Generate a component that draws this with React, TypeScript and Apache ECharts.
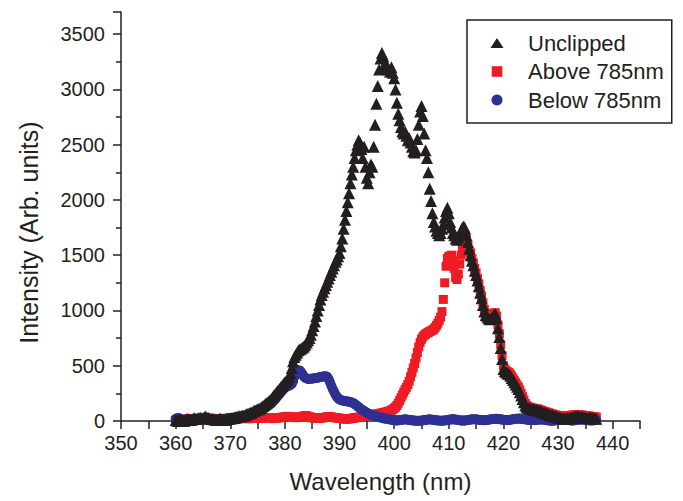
import React, { useEffect, useRef } from "react";
import * as echarts from "echarts";

const WAVELENGTH_START = 360;
const WAVELENGTH_STEP = 0.25;

const SERIES_NAMES = ["Unclipped", "Above 785nm", "Below 785nm"];

// Intensity sampled every 0.25 nm from 360 nm (8 values per row = 2 nm)
const UNCLIPPED = [
  10, 5, 0, 8, 12, 5, 0, 6,
  15, 20, 12, 8, 14, 22, 25, 18,
  20, 28, 30, 22, 26, 34, 40, 30,
  28, 22, 20, 18, 15, 12, 10, 14,
  18, 20, 16, 12, 10, 14, 18, 20,
  22, 25, 28, 30, 34, 38, 40, 42,
  45, 48, 50, 55, 60, 65, 70, 75,
  80, 88, 95, 100, 105, 110, 115, 125,
  135, 145, 155, 165, 175, 185, 200, 215,
  230, 245, 260, 275, 290, 305, 320, 335,
  350, 360, 375, 400, 430, 480, 540, 580,
  600, 620, 640, 650, 655, 665, 675, 690,
  710, 730, 750, 780, 820, 860, 900, 950,
  1000, 1050, 1100, 1140, 1170, 1200, 1230, 1260,
  1290, 1320, 1350, 1380, 1410, 1440, 1460, 1490,
  1520, 1580, 1650, 1740, 1820, 1900, 1980, 2060,
  2150, 2230, 2300, 2380, 2450, 2500, 2540, 2520,
  2460, 2380, 2480, 2300, 2200, 2150, 2250, 2320,
  2300, 2480, 2680, 2870, 3030, 3180, 3280, 3330,
  3300, 3230, 3190, 3210, 3180, 3160, 3200, 3150,
  3100, 3000, 2880, 2780, 2720, 2660, 2620, 2600,
  2620, 2580, 2540, 2560, 2520, 2480, 2440, 2430,
  2450, 2550, 2680, 2800, 2850, 2760, 2600, 2450,
  2380, 2250, 2100, 1990, 1880, 1800, 1760, 1720,
  1700, 1680, 1700, 1740, 1780, 1840, 1900, 1930,
  1880, 1800, 1750, 1700, 1680, 1650, 1640, 1660,
  1690, 1720, 1750, 1760, 1740, 1680, 1620, 1560,
  1500, 1450, 1410, 1360, 1320, 1270, 1220, 1160,
  1110, 1050, 990, 960, 945, 930, 920, 925,
  940, 960, 970, 930, 840, 760, 660, 560,
  470, 450, 440, 430, 425, 410, 390, 370,
  350, 330, 310, 290, 260, 230, 200, 170,
  140, 125, 120, 115, 110, 108, 105, 102,
  100, 98, 95, 90, 85, 80, 75, 70,
  65, 60, 56, 52, 50, 46, 42, 38,
  35, 30, 28, 25, 22, 20, 20, 22,
  25, 28, 30, 35, 38, 40, 42, 40,
  38, 36, 34, 32, 30, 28, 26, 28,
  30, 28, 25, 22, 20,
];

const ABOVE_785 = [
  5, 8, 10, 12, 10, 8, 12, 15,
  18, 20, 22, 20, 18, 16, 18, 20,
  22, 24, 22, 20, 18, 16, 15, 16,
  18, 20, 22, 24, 22, 20, 18, 16,
  15, 14, 15, 16, 18, 20, 22, 22,
  20, 18, 16, 15, 16, 18, 20, 22,
  24, 26, 25, 24, 22, 20, 22, 24,
  26, 28, 30, 28, 26, 24, 22, 24,
  26, 28, 30, 32, 30, 28, 26, 24,
  22, 24, 26, 28, 30, 32, 34, 36,
  38, 40, 42, 40, 38, 36, 34, 32,
  30, 32, 34, 36, 38, 42, 45, 48,
  46, 42, 38, 34, 30, 28, 26, 24,
  22, 24, 26, 28, 30, 32, 35, 38,
  40, 38, 36, 34, 32, 30, 28, 26,
  25, 24, 22, 20, 18, 17, 18, 20,
  22, 24, 26, 28, 30, 32, 34, 36,
  38, 40, 42, 44, 46, 48, 50, 52,
  55, 58, 60, 62, 65, 68, 70, 72,
  75, 78, 80, 84, 88, 92, 98, 105,
  115, 125, 140, 160, 185, 210, 235, 260,
  285, 305, 330, 360, 400, 440, 480, 520,
  570, 620, 670, 710, 740, 760, 775, 785,
  795, 800, 810, 815, 822, 830, 845, 865,
  885, 910, 940, 990, 1100, 1250, 1400, 1470,
  1490, 1470, 1500, 1450, 1380, 1300, 1280, 1330,
  1420, 1500, 1560, 1620, 1680, 1640, 1590, 1530,
  1520, 1470, 1430, 1380, 1340, 1290, 1240, 1180,
  1130, 1070, 1010, 975, 960, 945, 935, 940,
  955, 975, 980, 950, 870, 790, 690, 590,
  500, 470, 455, 445, 440, 425, 405, 385,
  365, 345, 325, 305, 280, 250, 220, 190,
  160, 140, 130, 125, 120, 118, 115, 112,
  110, 108, 105, 100, 95, 90, 86, 82,
  78, 74, 70, 66, 62, 58, 55, 52,
  50, 48, 46, 45, 44, 44, 45, 46,
  48, 50, 52, 54, 55, 56, 56, 55,
  55, 54, 52, 50, 48, 46, 45, 44,
  42, 40, 38, 36, 35,
];

const BELOW_785 = [
  20, 25, 28, 22, 15, 10, 8, 10,
  12, 10, 8, 6, 8, 10, 12, 14,
  15, 16, 18, 20, 22, 24, 25, 22,
  20, 18, 16, 14, 12, 10, 8, 10,
  12, 14, 16, 18, 20, 22, 24, 25,
  26, 28, 30, 30, 32, 34, 36, 38,
  40, 42, 45, 48, 50, 54, 58, 62,
  66, 70, 75, 80, 85, 90, 96, 102,
  110, 118, 126, 134, 142, 152, 162, 175,
  188, 200, 215, 230, 245, 260, 275, 290,
  300, 310, 315, 320, 325, 335, 360, 400,
  430, 450, 460, 455, 440, 420, 400, 390,
  385, 380, 380, 382, 385, 385, 388, 390,
  392, 395, 398, 400, 402, 404, 405, 400,
  380, 350, 320, 290, 265, 240, 220, 205,
  195, 190, 186, 183, 180, 178, 176, 174,
  172, 168, 162, 155, 145, 135, 125, 115,
  105, 98, 90, 82, 75, 68, 62, 58,
  54, 50, 46, 42, 38, 35, 32, 29,
  26, 23, 20, 18, 16, 14, 12, 10,
  8, 6, 5, 6, 8, 10, 12, 14,
  15, 14, 12, 10, 8, 6, 5, 4,
  3, 2, 2, 3, 4, 6, 8, 10,
  12, 14, 15, 14, 12, 10, 8, 6,
  5, 4, 3, 3, 4, 5, 7, 9,
  11, 13, 15, 16, 15, 13, 11, 9,
  7, 5, 4, 4, 5, 7, 9, 11,
  13, 15, 16, 16, 15, 13, 11, 9,
  8, 7, 7, 8, 10, 12, 14, 16,
  18, 19, 20, 20, 19, 17, 15, 13,
  11, 10, 9, 9, 10, 12, 14, 16,
  18, 20, 21, 22, 22, 21, 19, 17,
  15, 13, 11, 10, 9, 8, 8, 9,
  10, 12, 13, 14, 14, 13, 11, 9,
  7, 5, 4, 3, 3, 4, 6, 8,
  10, 12, 14, 15, 15, 14, 12, 10,
  8, 6, 5, 5, 6, 8, 10, 12,
  13, 14, 14, 13, 11, 9, 7, 6,
  5, 5, 6, 8, 10,
];

const toPairs = (vals: number[]) =>
  vals.map((v, i) => [+(WAVELENGTH_START + i * WAVELENGTH_STEP).toFixed(2), v]);

const INK = "#231f20";
const RED = "#ed1c24";
const BLUE = "#2e3192";
const FONT = "'Liberation Sans', Arial, Helvetica, sans-serif";

// legend icons inside a 14x14 frame (invisible corner moves keep the frame)
const ICON_TRIANGLE = "path://M0,0M14,14M7,2L13.5,12L0.5,12Z";
const ICON_SQUARE = "path://M0,0M14,14M1.7,1.7L12.3,1.7L12.3,12.3L1.7,12.3Z";
const ICON_CIRCLE = "path://M0,0M14,14M7,1.5A5.5,5.5,0,1,1,6.99,1.5Z";

export default function App() {
  const ref = useRef<HTMLDivElement>(null);
  useEffect(() => {
    if (!ref.current) return;
    const chart = echarts.init(ref.current, undefined, { renderer: "svg" });
    const axisCommon = {
      axisLine: { show: true, lineStyle: { color: INK, width: 1.5 } },
      axisTick: { show: true, inside: false, length: 8, lineStyle: { color: INK, width: 1.5 } },
      splitLine: { show: false },
      nameLocation: "middle" as const,
    };
    chart.setOption({
      animation: false,
      backgroundColor: "#ffffff",
      textStyle: { fontFamily: FONT },
      grid: { left: 121, right: 43, top: 12, bottom: 80, containLabel: false },
      legend: {
        orient: "vertical",
        left: 467,
        top: 20,
        data: [
          { name: SERIES_NAMES[0], icon: ICON_TRIANGLE },
          { name: SERIES_NAMES[1], icon: ICON_SQUARE },
          { name: SERIES_NAMES[2], icon: ICON_CIRCLE },
        ],
        padding: [12, 8, 12, 23],
        itemGap: 6.5,
        itemWidth: 14,
        itemHeight: 14,
        symbolKeepAspect: true,
        borderColor: INK,
        borderWidth: 1.5,
        borderRadius: 0,
        backgroundColor: "#ffffff",
        textStyle: { fontFamily: FONT, fontSize: 22, color: INK, padding: [0, 0, 0, 19] },
      },
      xAxis: {
        ...axisCommon,
        type: "value",
        min: 350,
        max: 445,
        interval: 5,
        name: "Wavelength (nm)",
        nameGap: 48,
        nameTextStyle: { fontFamily: FONT, fontSize: 24, color: INK },
        axisLabel: {
          margin: 12,
          fontFamily: FONT,
          fontSize: 20,
          color: INK,
          formatter: (v: number) => (v % 10 === 0 && v <= 440 ? String(v) : ""),
        },
      },
      yAxis: {
        ...axisCommon,
        type: "value",
        min: 0,
        max: 3700,
        interval: 500,
        name: "Intensity (Arb. units)",
        nameGap: 80,
        nameTextStyle: { fontFamily: FONT, fontSize: 25, color: INK, padding: [0, 32, 0, 0] },
        minorTick: { show: true, splitNumber: 2, length: 5, lineStyle: { color: INK, width: 1.5 } },
        minorSplitLine: { show: false },
        axisLabel: {
          margin: 16,
          fontFamily: FONT,
          fontSize: 20,
          color: INK,
          formatter: (v: number) => (v <= 3500 ? String(v) : ""),
        },
      },
      series: [
        {
          name: "Above 785nm",
          type: "scatter",
          symbol: "rect",
          symbolSize: 9,
          clip: false,
          itemStyle: { color: RED, opacity: 1 },
          data: toPairs(ABOVE_785),
          z: 2,
        },
        {
          name: "Below 785nm",
          type: "scatter",
          symbol: "circle",
          symbolSize: 10,
          clip: false,
          itemStyle: { color: BLUE, opacity: 1 },
          data: toPairs(BELOW_785),
          z: 3,
        },
        {
          name: "Unclipped",
          type: "scatter",
          symbol: "triangle",
          symbolSize: 12,
          clip: false,
          itemStyle: { color: INK, opacity: 1 },
          data: toPairs(UNCLIPPED),
          z: 4,
        },
      ],
    });
    return () => chart.dispose();
  }, []);
  return (
    <div
      ref={ref}
      style={{ position: "fixed", left: 0, top: 0, width: 683, height: 501, background: "#fff" }}
    />
  );
}
